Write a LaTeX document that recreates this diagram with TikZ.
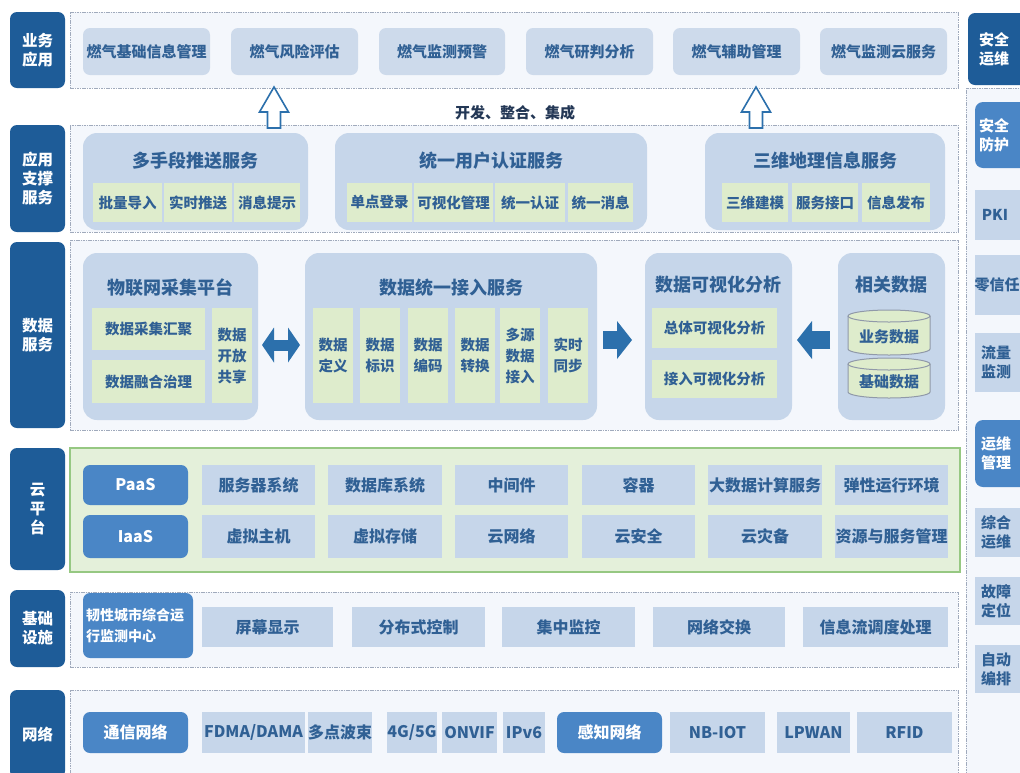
\documentclass[tikz,border=0pt]{standalone}
\usepackage{fontspec}
\setmainfont{Noto Sans CJK SC}
\usetikzlibrary{arrows.meta,calc}
\definecolor{dkblue}{RGB}{30,92,152}
\definecolor{mdblue}{RGB}{74,134,198}
\definecolor{txtblue}{RGB}{48,96,148}
\definecolor{itemfill}{RGB}{205,218,235}
\definecolor{grpfill}{RGB}{198,214,234}
\definecolor{grnfill}{RGB}{222,236,204}
\definecolor{framefill}{RGB}{244,247,252}
\definecolor{framedraw}{RGB}{160,170,188}
\definecolor{cloudfill}{RGB}{228,240,218}
\definecolor{clouddraw}{RGB}{150,200,130}
\definecolor{arrowblue}{RGB}{44,112,172}
\definecolor{darktxt}{RGB}{35,55,85}
\tikzset{
  base/.style={inner sep=0pt, outer sep=0pt, text=txtblue, align=center},
  lbl/.style={base, fill=dkblue, text=white, rounded corners=7pt, font=\bfseries\fontsize{15.5}{19}\selectfont},
  frame/.style={base, draw=framedraw, fill=framefill, dash pattern=on 1.6pt off 0.8pt, line width=0.9pt},
  cloudframe/.style={base, draw=clouddraw, fill=cloudfill, line width=1.4pt},
  item/.style={base, fill=itemfill, rounded corners=7pt, font=\bfseries\fontsize{15}{18}\selectfont},
  group/.style={base, fill=grpfill, rounded corners=14pt},
  grptitle/.style={base, font=\bfseries\fontsize{18}{22}\selectfont},
  sub/.style={base, fill=grnfill, font=\bfseries\fontsize{14.5}{21}\selectfont},
  citem/.style={base, fill=grpfill, font=\bfseries\fontsize{16}{19}\selectfont},
  nitem/.style={base, fill=grpfill, font=\bfseries\fontsize{16}{19}\selectfont},
  bluebox/.style={base, fill=mdblue, text=white, rounded corners=7pt, font=\bfseries\fontsize{16}{19}\selectfont},
  ritem/.style={base, fill=grpfill},
  rblue/.style={base, fill=mdblue, rounded corners=8pt},
  rtext/.style={base, text=txtblue, font=\bfseries\fontsize{15}{19}\selectfont},
  rwtext/.style={rtext, text=white},
  hollow/.style={draw=arrowblue, fill=white, line width=1.6pt, line join=miter},
  fatline/.style={draw=arrowblue, line width=#1},
  cyl/.style={fill=grnfill, draw=framedraw!90!black, line width=1pt},
}
\newcommand\bx[7]{\node[#1,minimum width={#5-#3},minimum height={#6-#4}] (#2) at ({(#3+#5)/2},{(#4+#6)/2}) {#7};}
\newcommand\cylbox[6]{%
  \fill[grnfill] (#2,#3+6) rectangle (#4,#5-6);
  \fill[grnfill] ({(#2+#4)/2},#5-6) ellipse [x radius={(#4-#2)/2}, y radius=6];
  \draw[cyl] (#2,#3+6) -- (#2,#5-6) arc [start angle=180, end angle=0, x radius={(#4-#2)/2}, y radius=6] -- (#4,#3+6);
  \draw[cyl] ({(#2+#4)/2},#3+6) ellipse [x radius={(#4-#2)/2}, y radius=6];
  \node[base, font=\bfseries\fontsize{15}{18}\selectfont] (#1) at ({(#2+#4)/2},{(#3+#5)/2+4}) {#6};}
\newcommand\uparrowhollow[2]{%
  \coordinate (#1) at (#2,87);
  \draw[hollow] (#1) -- ++(14.5,25) -- ++(-8,0) -- ++(0,16) -- ++(-13,0) -- ++(0,-16) -- ++(-8,0) -- cycle;}
\begin{document}
\begin{tikzpicture}[x=1pt,y=-1pt]
\useasboundingbox (0,0) rectangle (1020,772);
\clip (0,0) rectangle (1020,772);
\fill[white] (0,0) rectangle (1020,772);

% ---- frames
\bx{frame}{fbiz}{70}{12}{958}{88}{}
\bx{frame}{fsup}{70}{125}{958}{232}{}
\bx{frame}{fdata}{70}{240}{958}{430}{}
\bx{cloudframe}{fcloud}{70}{448}{960}{572}{}
\bx{frame}{finfra}{70}{592}{958}{667}{}
\bx{frame}{fnet}{70}{690}{958}{790}{}
\bx{frame}{fright}{966}{88}{1040}{790}{}

% ---- left labels
\bx{lbl}{lbiz}{10}{12}{65}{88}{业务\\应用}
\bx{lbl}{lsup}{10}{125}{65}{232}{应用\\支撑\\服务}
\bx{lbl}{ldata}{10}{242}{65}{428}{数据\\服务}
\bx{lbl}{lcloud}{10}{448}{65}{570}{云\\平\\台}
\bx{lbl}{linfra}{10}{590}{65}{667}{基础\\设施}
\bx{lbl}{lnet}{10}{690}{65}{778}{网络}

% ---- business applications
\bx{item}{b1}{83}{28}{210}{75}{燃气基础信息管理}
\bx{item}{b2}{231}{28}{358}{75}{燃气风险评估}
\bx{item}{b3}{379}{28}{505}{75}{燃气监测预警}
\bx{item}{b4}{526}{28}{653}{75}{燃气研判分析}
\bx{item}{b5}{673}{28}{800}{75}{燃气辅助管理}
\bx{item}{b6}{820}{28}{947}{75}{燃气监测云服务}

\uparrowhollow{ua1}{274}
\uparrowhollow{ua2}{756}
\node[base, text=darktxt, font=\bfseries\fontsize{15}{18}\selectfont] (dev) at (515,113) {开发、整合、集成};

% ---- application support
\bx{group}{g1}{83}{133}{308}{230}{}
\node[grptitle] (g1t) at (195.5,161) {多手段推送服务};
\bx{sub}{s11}{93}{183}{162}{222}{批量导入}
\bx{sub}{s12}{164}{183}{232}{222}{实时推送}
\bx{sub}{s13}{234}{183}{300}{222}{消息提示}
\bx{group}{g2}{335}{133}{647}{230}{}
\node[grptitle] (g2t) at (491,161) {统一用户认证服务};
\bx{sub}{s21}{347}{183}{412}{222}{单点登录}
\bx{sub}{s22}{414}{183}{493}{222}{可视化管理}
\bx{sub}{s23}{495}{183}{565}{222}{统一认证}
\bx{sub}{s24}{568}{183}{633}{222}{统一消息}
\bx{group}{g3}{705}{133}{945}{230}{}
\node[grptitle] (g3t) at (825,161) {三维地理信息服务};
\bx{sub}{s31}{722}{183}{788}{222}{三维建模}
\bx{sub}{s32}{792}{183}{858}{222}{服务接口}
\bx{sub}{s33}{862}{183}{930}{222}{信息发布}

% ---- data services
\bx{group}{d1}{83}{253}{258}{420}{}
\node[grptitle] (d1t) at (170.5,288) {物联网采集平台};
\bx{sub}{d11}{92}{308}{205}{350}{数据采集汇聚}
\bx{sub}{d12}{92}{360}{205}{403}{数据融合治理}
\bx{sub}{d13}{212}{308}{252}{403}{数据\\开放\\共享}
\bx{group}{d2}{305}{253}{597}{420}{}
\node[grptitle] (d2t) at (451,288) {数据统一接入服务};
\bx{sub}{d21}{313}{308}{353}{403}{数据\\定义}
\bx{sub}{d22}{360}{308}{400}{403}{数据\\标识}
\bx{sub}{d23}{408}{308}{448}{403}{数据\\编码}
\bx{sub}{d24}{455}{308}{495}{403}{数据\\转换}
\bx{sub}{d25}{500}{308}{540}{403}{多源\\数据\\接入}
\bx{sub}{d26}{548}{308}{588}{403}{实时\\同步}
\bx{group}{d3}{645}{253}{792}{420}{}
\node[grptitle] (d3t) at (718.5,285) {数据可视化分析};
\bx{sub}{d31}{652}{308}{777}{348}{总体可视化分析}
\bx{sub}{d32}{652}{360}{777}{398}{接入可视化分析}
\bx{group}{d4}{838}{253}{945}{420}{}
\node[grptitle] (d4t) at (891.5,285) {相关数据};
\cylbox{c1}{848}{310}{930}{355}{业务数据}
\cylbox{c2}{848}{358}{930}{398}{基础数据}

\draw[fatline=11pt, {Triangle[length=12pt,width=35pt,line width=0pt]}-{Triangle[length=12pt,width=35pt,line width=0pt]}] ([xshift=4pt,yshift=-8.5pt]d1.east) -- ([xshift=-5pt,yshift=-8.5pt]d2.west);
\draw[fatline=18pt, -{Triangle[length=15pt,width=38pt,line width=0pt]}] ([xshift=6pt,yshift=-3.5pt]d2.east) -- ([xshift=-13pt,yshift=-3.5pt]d3.west);
\draw[fatline=18pt, -{Triangle[length=15pt,width=38pt,line width=0pt]}] ([xshift=-8pt,yshift=-3.5pt]d4.west) -- ([xshift=5pt,yshift=-3.5pt]d3.east);

% ---- cloud platform
\bx{bluebox}{paas}{83}{465}{188}{505}{PaaS}
\bx{bluebox}{iaas}{83}{515}{188}{558}{IaaS}
\bx{citem}{p1}{202}{465}{315}{505}{服务器系统}
\bx{citem}{p2}{328}{465}{442}{505}{数据库系统}
\bx{citem}{p3}{455}{465}{568}{505}{中间件}
\bx{citem}{p4}{582}{465}{695}{505}{容器}
\bx{citem}{p5}{708}{465}{822}{505}{大数据计算服务}
\bx{citem}{p6}{835}{465}{948}{505}{弹性运行环境}
\bx{citem}{q1}{202}{515}{315}{558}{虚拟主机}
\bx{citem}{q2}{328}{515}{442}{558}{虚拟存储}
\bx{citem}{q3}{455}{515}{568}{558}{云网络}
\bx{citem}{q4}{582}{515}{695}{558}{云安全}
\bx{citem}{q5}{708}{515}{822}{558}{云灾备}
\bx{citem}{q6}{835}{515}{948}{558}{资源与服务管理}

% ---- infrastructure
\node[bluebox, align=left, font=\bfseries\fontsize{14}{21}\selectfont, minimum width=110, minimum height=65, text width=104] (i0) at (138,625.5) {韧性城市综合运\\行监测中心};
\bx{citem}{i1}{202}{607}{333}{647}{屏幕显示}
\bx{citem}{i2}{352}{607}{485}{647}{分布式控制}
\bx{citem}{i3}{502}{607}{635}{647}{集中监控}
\bx{citem}{i4}{653}{607}{785}{647}{网络交换}
\bx{citem}{i5}{803}{607}{948}{647}{信息流调度处理}

% ---- network
\bx{bluebox}{n0}{83}{712}{188}{753}{通信网络}
\bx{nitem}{n1}{202}{712}{305}{753}{FDMA/DAMA}
\bx{nitem}{n2}{308}{712}{372}{753}{多点波束}
\bx{nitem}{n3}{387}{712}{437}{753}{4G/5G}
\bx{nitem}{n4}{442}{712}{497}{753}{ONVIF}
\bx{nitem}{n5}{503}{712}{545}{753}{IPv6}
\bx{bluebox}{n6}{557}{712}{662}{753}{感知网络}
\bx{nitem}{n7}{670}{712}{765}{753}{NB-IOT}
\bx{nitem}{n8}{777}{712}{850}{753}{LPWAN}
\bx{nitem}{n9}{857}{712}{952}{753}{RFID}

% ---- right column
\bx{lbl}{r0}{968}{13}{1035}{85}{}
\node[rwtext] (r0t) at (994,49) {安全\\运维};
\bx{rblue}{r1}{975}{102}{1035}{168}{}
\node[rwtext] (r1t) at (994,135) {安全\\防护};
\bx{ritem}{r2}{975}{190}{1035}{240}{}
\node[rtext] (r2t) at (995,215) {PKI};
\bx{ritem}{r3}{975}{255}{1035}{315}{}
\node[rtext] (r3t) at (997,285) {零信任};
\bx{ritem}{r4}{975}{333}{1035}{392}{}
\node[rtext] (r4t) at (996,362) {流量\\监测};
\bx{rblue}{r5}{975}{420}{1035}{487}{}
\node[rwtext] (r5t) at (996,453) {运维\\管理};
\bx{ritem}{r6}{975}{508}{1035}{557}{}
\node[rtext] (r6t) at (996,532) {综合\\运维};
\bx{ritem}{r7}{975}{577}{1035}{625}{}
\node[rtext] (r7t) at (996,601) {故障\\定位};
\bx{ritem}{r8}{975}{645}{1035}{693}{}
\node[rtext] (r8t) at (996,669) {自动\\编排};
\end{tikzpicture}
\end{document}
